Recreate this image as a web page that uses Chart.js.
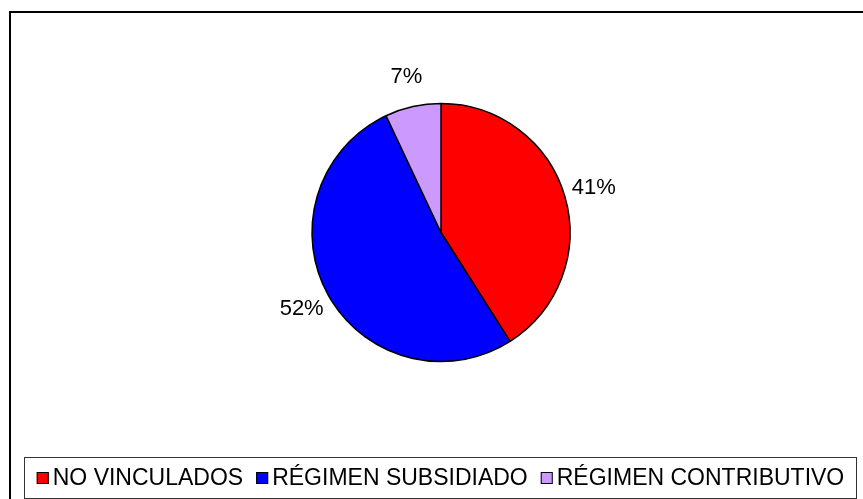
<!DOCTYPE html>
<html>
<head>
<meta charset="utf-8">
<script src="https://cdn.jsdelivr.net/npm/chart.js@4.4.0/dist/chart.umd.min.js"></script>
<style>
  html, body { margin: 0; padding: 0; background: #fff; }
  #wrap { width: 863px; height: 499px; }
</style>
</head>
<body>
<div id="wrap"><canvas id="pie"></canvas></div>
<script>
// datos del gráfico
const categorias = ['NO VINCULADOS', 'RÉGIMEN SUBSIDIADO', 'RÉGIMEN CONTRIBUTIVO'];
const porcentajes = [41, 52, 7];
const colores = ['#FF0000', '#0000FF', '#CC99FF'];

const FONT = '"Liberation Sans", Arial, sans-serif';

// marco exterior (se sale del lienzo por derecha y abajo)
const marco = {
  id: 'marco',
  beforeDraw(chart) {
    const c = chart.ctx;
    c.save();
    c.fillStyle = '#fff';
    c.fillRect(0, 0, chart.width, chart.height);
    c.strokeStyle = '#000';
    c.lineWidth = 2;
    c.strokeRect(10, 12, 900, 900);
    c.restore();
  }
};

// etiquetas de porcentaje fuera de cada sector
const etiquetas = {
  id: 'etiquetas',
  afterDatasetsDraw(chart) {
    const c = chart.ctx;
    const meta = chart.getDatasetMeta(0);
    c.save();
    c.font = '22px ' + FONT;
    c.fillStyle = '#000';
    c.textAlign = 'center';
    c.textBaseline = 'middle';
    meta.data.forEach((arc, i) => {
      const p = arc.getProps(['x', 'y', 'startAngle', 'endAngle', 'outerRadius'], true);
      const mid = (p.startAngle + p.endAngle) / 2;
      const r = p.outerRadius + 30;
      c.fillText(porcentajes[i] + '%', p.x + Math.cos(mid) * r, p.y + Math.sin(mid) * r);
    });
    c.restore();
  }
};

// leyenda dentro de un recuadro abajo
const leyenda = {
  id: 'leyenda',
  afterDraw(chart) {
    const c = chart.ctx;
    const box = { x: 24.5, y: 457.5, w: 832, h: 41 };
    c.save();
    c.strokeStyle = '#333';
    c.lineWidth = 1;
    c.strokeRect(box.x, box.y, box.w, box.h);

    c.font = '23px ' + FONT;
    const sq = 12, gapTxt = 4, gapItem = 13;
    const widths = chart.data.labels.map(l => c.measureText(l).width);
    let total = widths.reduce((a, b) => a + b, 0) + chart.data.labels.length * (sq + gapTxt) + (chart.data.labels.length - 1) * gapItem;
    let x = box.x + (box.w - total) / 2;
    const cy = box.y + box.h / 2;
    c.textBaseline = 'middle';
    c.textAlign = 'left';
    chart.data.labels.forEach((l, i) => {
      c.fillStyle = chart.data.datasets[0].backgroundColor[i];
      c.fillRect(x, cy - sq / 2, sq, sq);
      c.strokeStyle = '#000';
      c.strokeRect(x + 0.5, cy - sq / 2 + 0.5, sq - 1, sq - 1);
      x += sq + gapTxt;
      c.fillStyle = '#000';
      c.fillText(l, x, cy + 1);
      x += widths[i] + gapItem;
    });
    c.restore();
  }
};

new Chart(document.getElementById('pie'), {
  type: 'pie',
  data: {
    labels: categorias,
    datasets: [{
      data: porcentajes,
      backgroundColor: colores,
      borderColor: '#000',
      borderWidth: 1.5,
      radius: 129
    }]
  },
  options: {
    responsive: true,
    maintainAspectRatio: false,
    animation: false,
    layout: { padding: { left: 19, right: 0, top: 0, bottom: 34 } },
    plugins: {
      legend: { display: false },
      tooltip: { enabled: false }
    }
  },
  plugins: [marco, etiquetas, leyenda]
});
</script>
</body>
</html>
